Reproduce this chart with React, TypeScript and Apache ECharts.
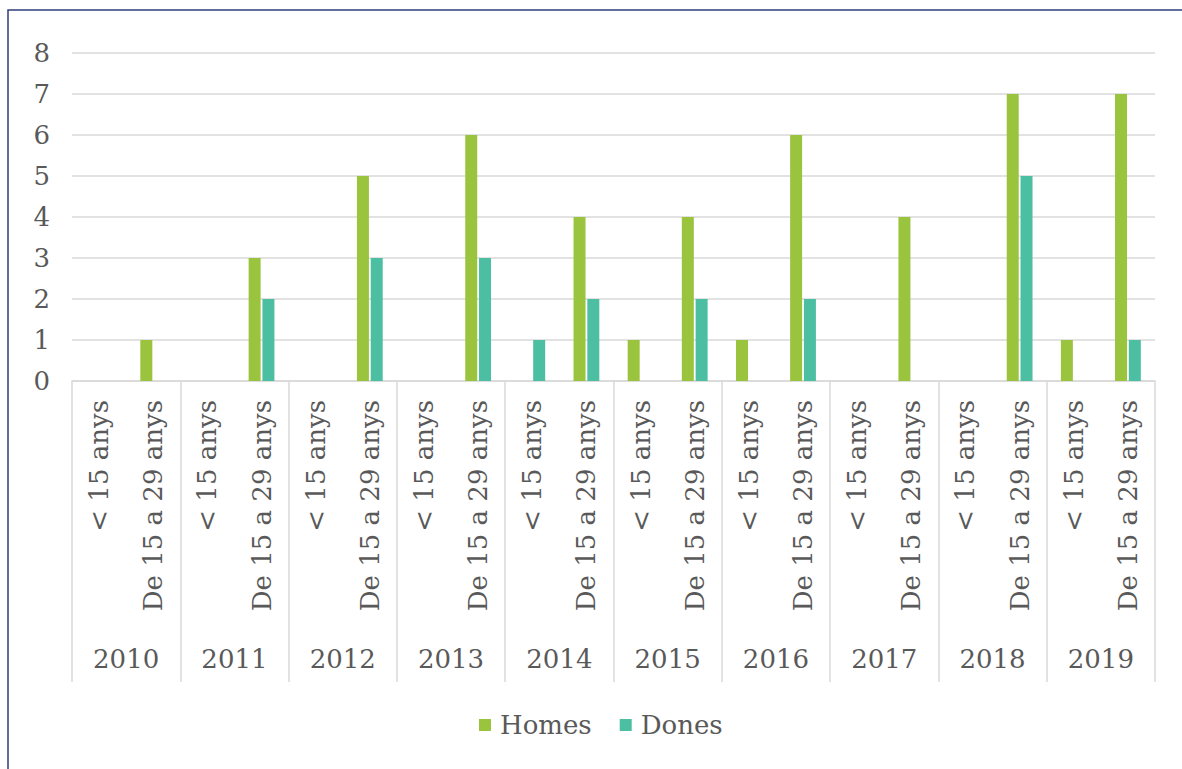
import React, { useEffect, useRef } from "react";
import * as echarts from "echarts";

const years = ["2010", "2011", "2012", "2013", "2014", "2015", "2016", "2017", "2018", "2019"];
const ageGroups = ["< 15 anys", "De 15 a 29 anys"];
const homes = [0, 1, 0, 3, 0, 5, 0, 6, 0, 4, 1, 4, 1, 6, 0, 4, 0, 7, 1, 7];
const dones = [0, 0, 0, 2, 0, 3, 0, 3, 1, 2, 0, 2, 0, 2, 0, 0, 0, 5, 0, 1];
const yTicks = [0, 8, 1];

const FONT = "DejaVu Serif";
const TXT = "#595959";
const GRID = "#d9d9d9";
const FS = 26;

export default function App() {
  const ref = useRef<HTMLDivElement>(null);
  useEffect(() => {
    if (!ref.current) return;
    const chart = echarts.init(ref.current, undefined, { renderer: "svg" });
    const cats: string[] = [];
    years.forEach(() => ageGroups.forEach((g) => cats.push(g)));
    chart.setOption({
      animation: false,
      graphic: [
        {
          type: "rect",
          shape: { x: 8, y: 10, width: 1300, height: 900 },
          style: { fill: "none", stroke: "#2f3e7a", lineWidth: 1.5 },
          silent: true,
          z: -1,
        },
      ],
      grid: { left: 72, right: 27, top: 53, bottom: 388, containLabel: false },
      legend: {
        bottom: 26,
        left: 474,
        itemWidth: 12,
        itemHeight: 12,
        itemGap: 28,
        icon: "rect",
        textStyle: { fontFamily: FONT, fontSize: FS, color: TXT, padding: [0, 0, 0, 4] },
        data: ["Homes", "Dones"],
      },
      xAxis: [
        {
          type: "category",
          data: cats,
          axisLine: { lineStyle: { color: GRID, width: 1.5 } },
          axisTick: { show: false },
          axisLabel: {
            interval: 0,
            rotate: 90,
            margin: 19,
            fontFamily: FONT,
            fontSize: FS,
            color: TXT,
          },
        },
        {
          type: "category",
          data: years,
          position: "bottom",
          axisLine: { show: false },
          axisTick: { show: true, length: 301, lineStyle: { color: GRID, width: 1.5 } },
          axisLabel: {
            interval: 0,
            margin: 265,
            fontFamily: FONT,
            fontSize: FS,
            color: TXT,
          },
        },
      ],
      yAxis: {
        type: "value",
        min: yTicks[0],
        max: yTicks[1],
        interval: yTicks[2],
        axisLine: { show: false },
        axisTick: { show: false },
        splitLine: { lineStyle: { color: GRID, width: 1.5 } },
        axisLabel: { margin: 22, fontFamily: FONT, fontSize: FS, color: TXT },
      },
      series: [
        {
          name: "Homes",
          type: "bar",
          xAxisIndex: 0,
          data: homes,
          barWidth: 12,
          barGap: "15%",
          itemStyle: { color: "#9bc43e" },
        },
        {
          name: "Dones",
          type: "bar",
          xAxisIndex: 0,
          data: dones,
          barWidth: 12,
          barGap: "15%",
          itemStyle: { color: "#4cbfa3" },
        },
      ],
    });
    return () => chart.dispose();
  }, []);
  return (
    <div
      ref={ref}
      style={{ position: "absolute", left: 0, top: 0, width: 1182, height: 769, background: "#fff" }}
    />
  );
}
